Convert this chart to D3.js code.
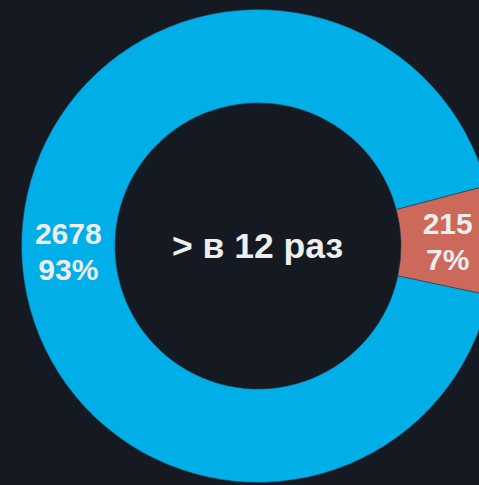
<!DOCTYPE html>
<html><head><meta charset="utf-8">
<script src="https://cdn.jsdelivr.net/npm/d3@7"></script>
<style>html,body{margin:0;padding:0;background:#151a22;overflow:hidden}</style>
</head><body>
<svg id="c" width="479" height="485"></svg>
<script>
const categories = ["A", "B"];
const values = [2678, 215];
const colors = ["#00aee8", "#cd695b"];
const centerLabel = "> в 12 раз";

const W = 479, H = 485, cx = 258, cy = 246, R = 236.5, r = 143;
const svg = d3.select("#c");
svg.append("rect").attr("width", W).attr("height", H).attr("fill", "#151a22");
const g = svg.append("g").attr("transform", `translate(${cx},${cy})`);
const total = d3.sum(values);
const start = (102.0 * Math.PI / 180);
const pie = d3.pie().sort(null).startAngle(start).endAngle(start + 2 * Math.PI);
const arcs = pie(values);
const arc = d3.arc().innerRadius(r).outerRadius(R);
g.selectAll("path").data(arcs).join("path")
  .attr("d", arc).attr("fill", (d, i) => colors[i])
  .attr("stroke", "#2a3a48").attr("stroke-width", 0.6);
const lab = d3.arc().innerRadius((r + R) / 2).outerRadius((r + R) / 2);
arcs.forEach((d, i) => {
  const [x, y] = lab.centroid(d);
  const t = g.append("text").attr("x", x).attr("y", y)
    .attr("text-anchor", "middle").attr("fill", "#eeeeee")
    .attr("font-family", "Liberation Sans, Arial, sans-serif")
    .attr("font-weight", "bold").attr("font-size", 30);
  t.append("tspan").attr("x", x).attr("dy", -7).text(values[i]);
  t.append("tspan").attr("x", x).attr("dy", 36).text(Math.round(values[i] / total * 100) + "%");
});
g.append("text").attr("x", -0.5).attr("y", 11.5).attr("text-anchor", "middle")
  .attr("fill", "#eeeeee").attr("font-family", "Liberation Sans, Arial, sans-serif")
  .attr("font-weight", "bold").attr("font-size", 35.5).text(centerLabel);
</script>
</body></html>
